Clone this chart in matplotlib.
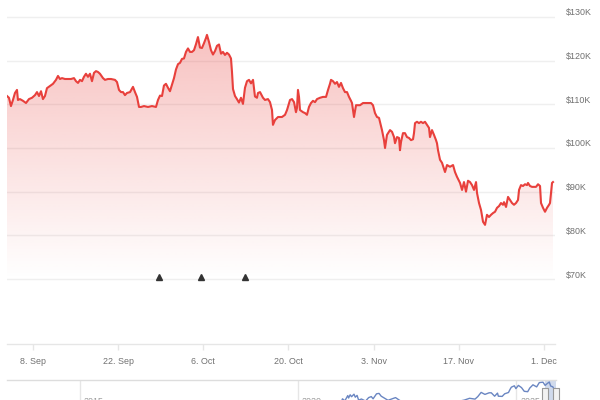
import numpy as np
import pandas as pd
import matplotlib
matplotlib.use("Agg")
import matplotlib.pyplot as plt
import matplotlib.dates as mdates
from matplotlib import transforms

plt.rcParams['font.family'] = ['Liberation Sans', 'DejaVu Sans']

# ---------------- data ----------------
START = pd.Timestamp('2025-09-01')
# time of each reading, in days after 1 Sep 2025
days = [
    2.73, 3.05, 3.38, 3.71, 4.04, 4.37, 4.53, 4.86, 5.36, 5.85,
    6.34, 6.84, 7.33, 7.66, 7.99, 8.32, 8.64, 8.97, 9.30, 9.79,
    10.29, 10.78, 11.11, 11.44, 11.77, 12.26, 12.75, 13.25, 13.74, 14.07,
    14.40, 14.73, 15.06, 15.38, 15.71, 16.04, 16.37, 16.70, 17.03, 17.36,
    17.69, 18.01, 18.51, 18.84, 19.33, 19.82, 20.48, 20.81, 21.14, 21.47,
    21.80, 22.12, 22.45, 22.95, 23.44, 23.77, 24.10, 24.43, 24.75, 25.25,
    25.90, 26.56, 27.22, 27.55, 27.88, 28.21, 28.53, 28.86, 29.19, 29.52,
    29.85, 30.18, 30.51, 30.84, 31.17, 31.49, 31.82, 32.15, 32.48, 32.81,
    33.14, 33.47, 33.80, 34.12, 34.45, 34.78, 35.11, 35.44, 35.60, 35.93,
    36.26, 36.59, 36.92, 37.25, 37.58, 37.91, 38.23, 38.56, 38.89, 39.22,
    39.55, 39.71, 39.88, 40.21, 40.53, 40.86, 41.19, 41.52, 41.85, 42.18,
    42.51, 42.84, 43.17, 43.49, 43.82, 43.99, 44.32, 44.81, 45.14, 45.63,
    45.96, 46.29, 46.45, 46.78, 47.28, 47.93, 48.43, 48.76, 49.25, 49.58,
    49.91, 50.23, 50.40, 50.56, 50.73, 50.89, 51.39, 51.71, 52.04, 52.37,
    52.70, 53.03, 53.36, 53.69, 54.18, 54.67, 55.17, 55.50, 55.82, 55.99,
    56.32, 56.65, 56.97, 57.30, 57.63, 57.96, 58.29, 58.62, 58.95, 59.28,
    59.44, 59.77, 60.10, 60.76, 61.25, 61.74, 62.24, 62.56, 62.89, 63.22,
    63.55, 63.88, 64.37, 64.70, 64.87, 65.19, 65.69, 66.02, 66.35, 66.51,
    66.84, 67.17, 67.33, 67.50, 67.82, 68.15, 68.48, 68.81, 69.14, 69.47,
    69.63, 69.80, 70.13, 70.45, 70.78, 71.11, 71.44, 71.77, 72.10, 72.26,
    72.59, 72.92, 73.25, 73.41, 73.58, 73.91, 74.24, 74.73, 75.06, 75.55,
    76.05, 76.37, 76.70, 77.20, 77.53, 77.85, 78.18, 78.51, 78.84, 79.17,
    79.50, 79.83, 79.99, 80.32, 80.65, 80.98, 81.31, 81.63, 81.96, 82.29,
    82.62, 82.95, 83.28, 83.61, 83.93, 84.26, 84.43, 84.76, 85.09, 85.42,
    85.74, 86.07, 86.40, 86.73, 86.90, 87.22, 87.55, 87.88, 88.21, 88.37,
    88.70, 89.03, 89.36, 89.69, 90.02, 90.35, 90.51, 90.84, 91.17, 91.50,
    91.83, 91.99, 92.32, 92.48,
]
# price in thousands of USD
price_k = [
    111.9, 111.5, 109.6, 111.0, 112.6, 113.3, 111.0, 111.2, 110.8, 110.3,
    111.2, 111.5, 112.1, 112.8, 111.9, 113.0, 111.2, 111.9, 113.7, 114.2,
    114.7, 115.6, 116.5, 115.8, 116.0, 115.8, 115.8, 115.8, 116.0, 115.3,
    114.9, 115.6, 115.3, 116.3, 117.0, 116.3, 117.0, 115.3, 117.2, 117.6,
    117.4, 117.0, 116.0, 115.6, 115.8, 115.8, 115.6, 115.1, 113.3, 112.8,
    112.8, 112.1, 112.6, 112.8, 114.0, 112.8, 111.7, 109.4, 109.4, 109.6,
    109.4, 109.6, 109.4, 111.0, 112.0, 111.9, 114.3, 114.7, 113.8, 113.0,
    114.5, 116.0, 118.0, 119.2, 119.5, 120.4, 120.5, 122.0, 122.8, 122.0,
    122.0, 122.4, 123.8, 125.4, 123.0, 122.9, 124.0, 125.2, 125.9, 124.3,
    122.4, 121.4, 122.2, 123.4, 123.7, 121.6, 122.0, 121.3, 121.8, 121.4,
    120.5, 117.5, 113.5, 111.9, 111.2, 110.4, 111.5, 110.1, 113.8, 115.3,
    115.6, 114.8, 115.6, 111.8, 111.5, 112.6, 112.8, 111.5, 111.0, 111.2,
    110.5, 108.7, 105.3, 106.4, 107.1, 107.1, 107.6, 108.7, 111.0, 111.2,
    110.5, 108.2, 109.2, 113.3, 111.7, 108.7, 108.2, 108.0, 107.6, 109.4,
    110.3, 110.8, 110.5, 111.2, 111.5, 111.7, 111.7, 113.3, 114.7, 115.6,
    115.3, 114.7, 115.1, 114.0, 114.9, 113.7, 112.8, 112.8, 111.7, 110.8,
    110.3, 107.1, 109.8, 109.8, 110.3, 110.3, 110.3, 110.3, 109.8, 108.0,
    107.1, 106.9, 104.1, 101.8, 100.0, 103.0, 104.1, 103.7, 102.5, 101.1,
    102.5, 102.3, 99.5, 101.4, 103.4, 103.4, 102.5, 102.3, 101.8, 102.0,
    103.4, 105.7, 106.0, 105.7, 106.0, 105.7, 106.0, 105.3, 104.6, 102.5,
    104.1, 103.0, 101.8, 101.1, 99.5, 97.3, 96.6, 94.5, 96.1, 95.7,
    96.1, 94.5, 93.4, 92.0, 90.4, 92.2, 90.0, 92.5, 92.2, 91.5,
    90.4, 92.2, 89.7, 87.4, 85.8, 83.1, 82.4, 84.7, 84.2, 84.7,
    85.1, 85.4, 86.3, 86.7, 87.4, 87.0, 87.6, 86.5, 88.8, 88.1,
    87.4, 87.0, 87.4, 88.1, 90.4, 91.5, 91.3, 91.7, 91.5, 92.0,
    91.3, 91.1, 91.1, 91.1, 91.7, 91.3, 87.4, 86.3, 85.4, 86.3,
    87.0, 87.4, 92.0, 92.2,
]

y_ticks = [70, 80, 90, 100, 110, 120, 130]
y_labels = ['$70K', '$80K', '$90K', '$100K', '$110K', '$120K', '$130K']
x_tick_dates = ['2025-09-08', '2025-09-22', '2025-10-06', '2025-10-20',
                '2025-11-03', '2025-11-17', '2025-12-01']
x_tick_labels = ['8. Sep', '22. Sep', '6. Oct', '20. Oct', '3. Nov', '17. Nov', '1. Dec']
event_days = [27.71, 34.62, 41.85]

# navigator (long-term history, thousands of USD)
nav_dates = [
    '2013-05-01', '2013-12-01', '2014-06-01', '2015-01-15', '2015-12-01', '2016-06-15',
    '2017-01-01', '2017-06-01', '2017-12-17', '2018-02-06', '2018-06-01', '2018-12-15',
    '2019-06-26', '2019-12-15', '2020-03-15', '2020-06-01', '2020-09-01', '2020-11-01',
    '2020-12-31', '2021-01-08', '2021-01-27', '2021-02-21', '2021-02-28', '2021-03-13',
    '2021-03-25', '2021-04-14', '2021-04-25', '2021-05-10', '2021-05-23', '2021-06-15',
    '2021-07-20', '2021-08-15', '2021-09-06', '2021-09-21', '2021-10-20', '2021-11-10',
    '2021-11-28', '2021-12-15', '2022-01-24', '2022-03-28', '2022-05-12', '2022-06-18',
    '2022-08-14', '2022-11-09', '2022-12-31', '2023-03-15', '2023-04-14', '2023-06-15',
    '2023-08-20', '2023-10-25', '2023-12-08', '2024-01-23', '2024-02-15', '2024-03-14',
    '2024-04-15', '2024-05-20', '2024-06-07', '2024-07-05', '2024-07-29', '2024-08-05',
    '2024-09-06', '2024-09-27', '2024-10-29', '2024-11-12', '2024-11-22', '2024-12-17',
    '2024-12-30', '2025-01-20', '2025-02-15', '2025-03-10', '2025-04-08', '2025-04-25',
    '2025-05-22', '2025-06-22', '2025-07-14', '2025-08-14', '2025-09-01', '2025-09-18',
    '2025-10-06', '2025-10-17', '2025-11-04', '2025-11-21', '2025-12-02',
]
nav_values = [
    0.12, 1.0, 0.6, 0.2, 0.43, 0.75,
    1.0, 2.4, 19.0, 6.9, 6.4, 3.3,
    12.9, 7.1, 5.4, 9.5, 11.9, 13.8,
    29.0, 41.0, 30.5, 57.0, 45.0, 61.0,
    51.5, 64.0, 49.0, 58.0, 34.0, 40.0,
    29.8, 47.0, 52.0, 41.0, 66.0, 68.0,
    54.0, 48.0, 33.5, 47.0, 29.0, 19.0,
    24.3, 16.0, 16.5, 24.5, 30.5, 25.0,
    26.0, 34.5, 43.5, 39.5, 52.0, 73.0,
    63.0, 71.0, 71.0, 54.0, 69.5, 54.0,
    53.0, 66.0, 72.5, 89.0, 99.0, 106.0,
    92.0, 108.0, 97.0, 78.5, 76.5, 94.5,
    111.0, 100.5, 122.0, 124.0, 108.0, 117.0,
    125.0, 105.0, 101.0, 84.0, 92.0,
]
nav_year_lines = ['2015-01-01', '2020-01-01', '2025-01-01']
nav_year_labels = ['2015', '2020', '2025']

# ---------------- figure ----------------
W, H = 600, 400
fig = plt.figure(figsize=(6, 4), dpi=100)
fig.patch.set_facecolor('white')

def px_box(x0, y0, x1, y1):
    return [x0 / W, 1 - y1 / H, (x1 - x0) / W, (y1 - y0) / H]

ax = fig.add_axes(px_box(7, 2, 555, 344))

dates = START + pd.to_timedelta(days, unit='D')
xn = mdates.date2num(dates)
price = np.array(price_k)

LINE = '#e8403c'
GRID = '#efefef'
TXT = '#707070'

for v in y_ticks:
    ax.axhline(v, color=GRID, lw=1.0, zorder=0)

# gradient area
poly = ax.fill_between(xn, price, y_ticks[0], facecolor='none', edgecolor='none')
grad = np.zeros((256, 1, 4))
grad[..., 0] = 232 / 255
grad[..., 1] = 64 / 255
grad[..., 2] = 60 / 255
grad[:, 0, 3] = np.linspace(0.0, 0.32, 256)
im = ax.imshow(grad, extent=[xn.min(), xn.max(), y_ticks[0], 126], aspect='auto',
               origin='lower', zorder=1, interpolation='bilinear')
im.set_clip_path(poly.get_paths()[0], transform=ax.transData)

ax.plot(xn, price, color=LINE, lw=1.5, solid_joinstyle='round', zorder=3)

# event flags
ev = mdates.date2num(START + pd.to_timedelta(event_days, unit='D'))
ax.plot(ev, [y_ticks[0]] * len(ev), linestyle='none', marker='^', ms=4.2,
        color='#333333', zorder=4,
        transform=transforms.offset_copy(ax.transData, fig=fig, x=0, y=2.5, units='dots'))

ax.set_xlim(mdates.date2num(START + pd.Timedelta(days=2.73)),
            mdates.date2num(START + pd.Timedelta(days=92.81)))
ax.set_ylim(55.12, 133.43)

for s in ['top', 'left', 'right']:
    ax.spines[s].set_visible(False)
ax.spines['bottom'].set_color('#e6e6e6')
ax.spines['bottom'].set_linewidth(1.0)

ax.set_yticks([])
lab_tr = transforms.offset_copy(
    transforms.blended_transform_factory(ax.transAxes, ax.transData),
    fig=fig, x=11, y=1.5, units='dots')
for v, l in zip(y_ticks, y_labels):
    ax.text(1.0, v, l, transform=lab_tr, ha='left', va='baseline',
            fontsize=6.4, color=TXT)

ax.set_xticks(mdates.date2num(pd.to_datetime(x_tick_dates)))
ax.set_xticklabels(x_tick_labels)
ax.tick_params(axis='x', length=4, width=1, color='#e6e6e6', pad=5,
               labelsize=6.4, labelcolor=TXT)
ax.set_facecolor('none')

# ---------------- navigator ----------------
nav = fig.add_axes(px_box(7, 380, 556, 407))
nx = mdates.date2num(pd.to_datetime(nav_dates))
nav.plot(nx, nav_values, color='#6a86c2', lw=1.0, zorder=3)
nav.axvspan(xn.min(), xn.max(), color='#6685c2', alpha=0.3, lw=0, zorder=2)
for d in nav_year_lines:
    nav.axvline(mdates.date2num(pd.Timestamp(d)), color='#e6e6e6', lw=1.0, zorder=1)
lab2 = transforms.offset_copy(
    transforms.blended_transform_factory(nav.transData, nav.transAxes),
    fig=fig, x=4, y=0, units='dots')
for d, l in zip(nav_year_lines, nav_year_labels):
    nav.text(mdates.date2num(pd.Timestamp(d)), 10 / 27, l, transform=lab2,
             ha='left', va='top', fontsize=6.4, color='#999999')
handle_tr = transforms.blended_transform_factory(nav.transData, nav.transAxes)
for hx in [xn.min(), xn.max()]:
    nav.plot([hx], [0.45], transform=handle_tr, marker=[(-0.45, -1), (0.45, -1), (0.45, 1), (-0.45, 1), (-0.45, -1)],
             ms=10, mfc='#f2f2f2', mec='#999999', mew=0.8, zorder=5, clip_on=False)

nav.set_xlim(mdates.date2num(pd.Timestamp('2013-04-30')),
             mdates.date2num(pd.Timestamp('2025-12-01')))
nav.set_ylim(0, 135)
for s in ['left', 'right', 'bottom']:
    nav.spines[s].set_visible(False)
nav.spines['top'].set_color('#dddddd')
nav.spines['top'].set_linewidth(1.0)
nav.set_xticks([])
nav.set_yticks([])
nav.set_facecolor('none')

fig.savefig('out.png', dpi=100, facecolor='white')
